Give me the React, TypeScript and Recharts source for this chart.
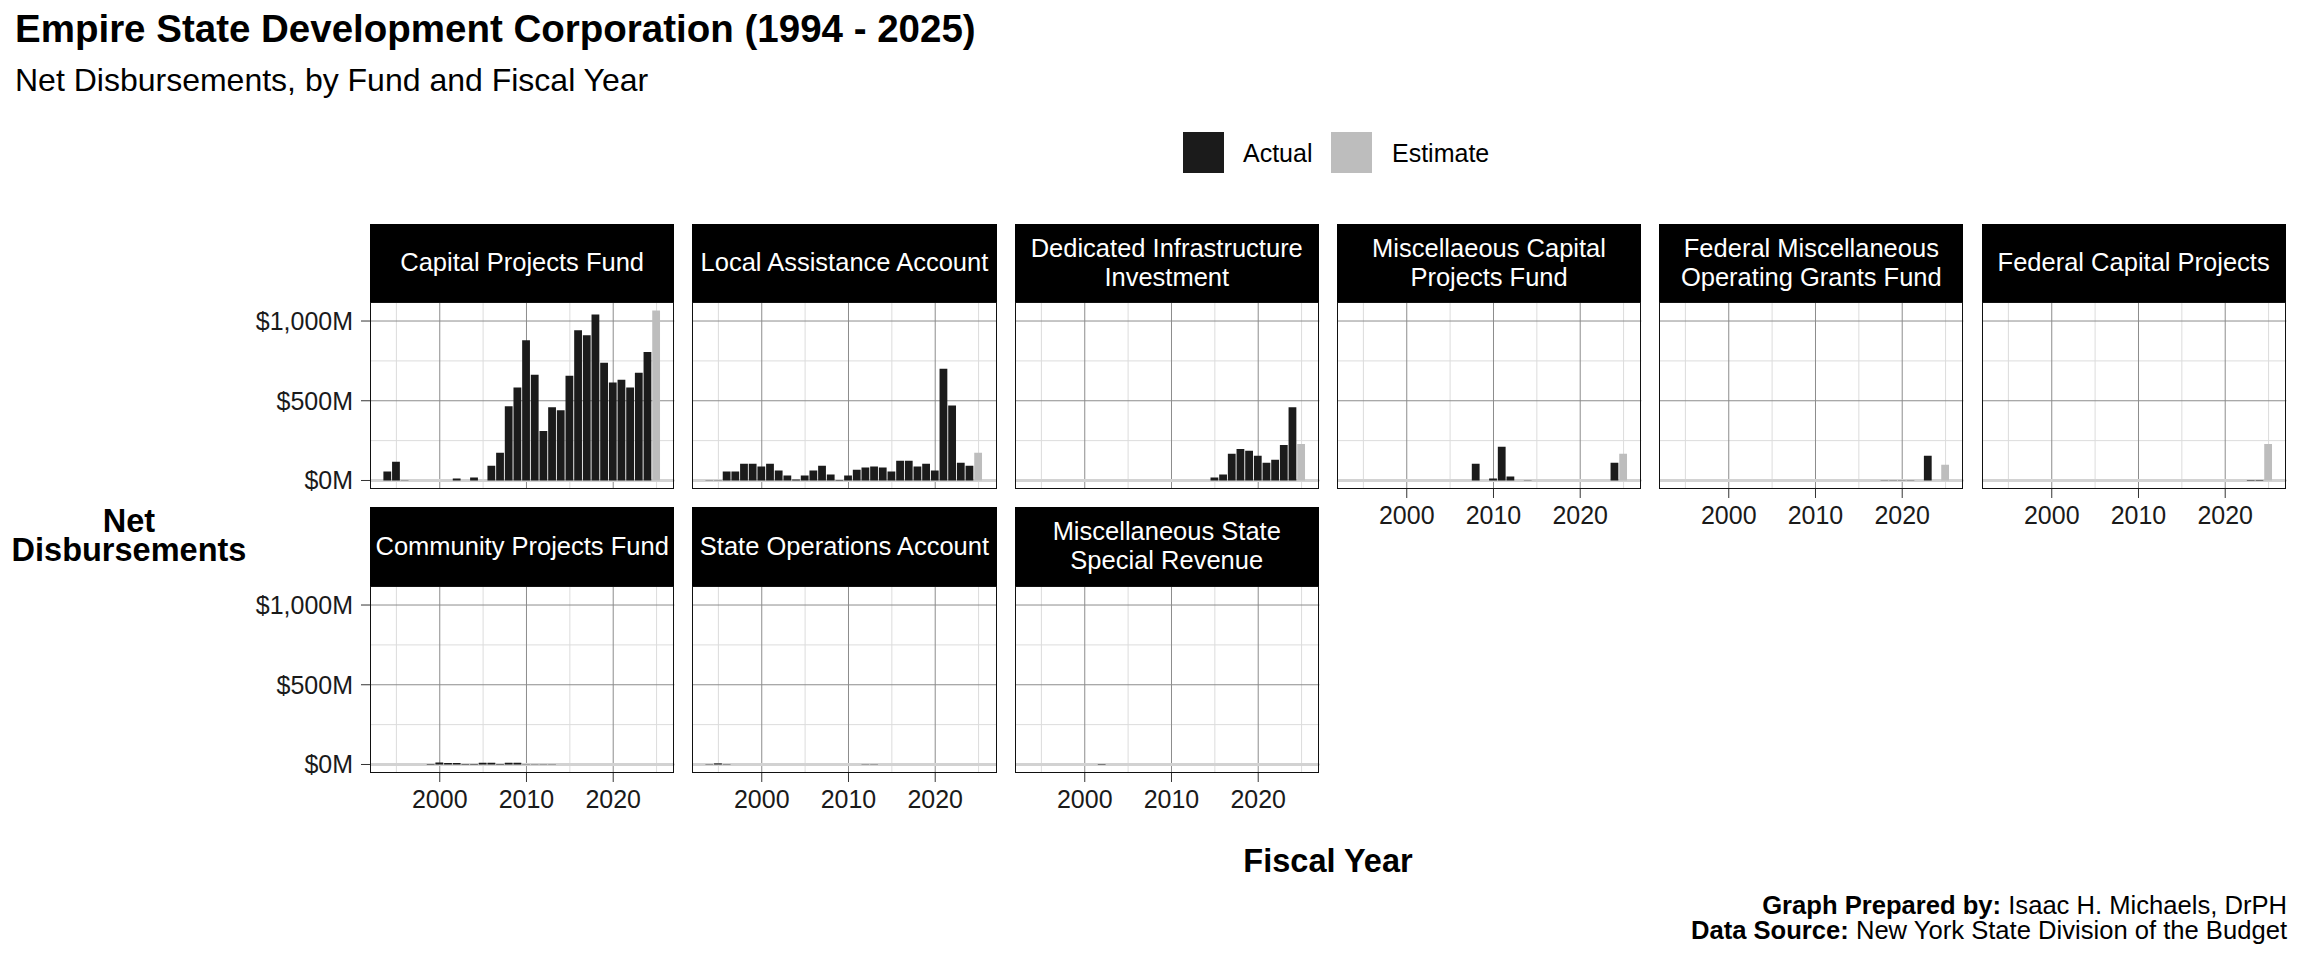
import React from "react";
import {
  BarChart,
  Bar,
  Cell,
  XAxis,
  YAxis,
  CartesianGrid,
} from "recharts";

const FONT = "'Liberation Sans', Arial, Helvetica, sans-serif";
const DARK = "#1b1b1b";
const LIGHT = "#bdbdbd";

// fiscal years shown on every facet
const years = [
  1994, 1995, 1996, 1997, 1998, 1999, 2000, 2001, 2002, 2003, 2004, 2005, 2006,
  2007, 2008, 2009, 2010, 2011, 2012, 2013, 2014, 2015, 2016, 2017, 2018, 2019,
  2020, 2021, 2022, 2023, 2024, 2025,
];
const estimateYears = [2025];

const majorX = [2000, 2010, 2020];
const minorX = [1995, 2005, 2015, 2025];
const majorY = [0, 500, 1000];
const minorY = [250, 750];

// net disbursements, $ millions, 1994 - 2025 (null = nothing disbursed)
const capitalProjectsFund = [
  56, 118, 2, null, null, null, null, null, 12, null, 19, null, 93, 174, 465,
  583, 880, 663, 310, 459, 440, 657, 942, 911, 1041, 738, 614, 632, 583, 676,
  806, 1066,
];
const localAssistanceAccount = [
  2, 2, 56, 56, 105, 105, 87, 105, 62, 31, 6, 31, 62, 93, 37, 3, 31, 68, 81, 87,
  81, 56, 124, 124, 87, 105, 62, 700, 471, 112, 93, 174,
];
const dedicatedInfrastructure = [
  null, null, null, null, null, null, null, null, null, null, null, null, null,
  null, null, null, null, null, null, null, null, 19, 37, 167, 198, 186, 155,
  112, 130, 223, 459, 229,
];
const miscCapitalProjects = [
  null, null, null, null, null, null, null, null, null, null, null, null, null,
  null, 105, null, 12, 211, 25, null, 2, null, null, null, null, null, null,
  null, null, null, 112, 167,
];
const federalMiscOperating = [
  null, null, null, null, null, null, null, null, null, null, null, null, null,
  null, null, null, null, null, null, null, null, null, null, null, 1, 1, 1, 1,
  null, 155, null, 99,
];
const federalCapitalProjects = [
  null, null, null, null, null, null, null, null, null, null, null, null, null,
  null, null, null, null, null, null, null, null, null, null, null, null, null,
  null, null, null, 3, 3, 229,
];
const communityProjectsFund = [
  null, null, null, null, null, 3, 12, 9, 9, 3, 3, 11, 11, 3, 11, 11, 2, 2, 2,
  2, null, null, null, null, null, null, null, null, null, null, null, null,
];
const stateOperationsAccount = [
  2, 7, 2, null, null, null, null, null, null, null, null, null, null, null,
  null, null, null, null, 1, 1, null, null, null, null, null, null, null, null,
  null, null, null, null,
];
const miscStateSpecialRevenue = [
  null, null, null, null, null, null, null, null, 3, null, null, null, null,
  null, null, null, null, null, null, null, null, null, null, null, null, null,
  null, null, null, null, null, null,
];

const panels = [
  { label: ["Capital Projects Fund"], values: capitalProjectsFund },
  { label: ["Local Assistance Account"], values: localAssistanceAccount },
  { label: ["Dedicated Infrastructure", "Investment"], values: dedicatedInfrastructure },
  { label: ["Miscellaeous Capital", "Projects Fund"], values: miscCapitalProjects },
  { label: ["Federal Miscellaneous", "Operating Grants Fund"], values: federalMiscOperating },
  { label: ["Federal Capital Projects"], values: federalCapitalProjects },
  { label: ["Community Projects Fund"], values: communityProjectsFund },
  { label: ["State Operations Account"], values: stateOperationsAccount },
  { label: ["Miscellaneous State", "Special Revenue"], values: miscStateSpecialRevenue },
];

// shared scales, ggplot style 5% expansion
const allValues = panels.flatMap((p) => p.values.filter((v) => v != null) as number[]);
const yMax = Math.max(...allValues);
const yDomain = [-0.05 * yMax, 1.05 * yMax];
const xLo = years[0] - 0.45;
const xHi = years[years.length - 1] + 0.45;
const xDomain = [xLo - 0.05 * (xHi - xLo), xHi + 0.05 * (xHi - xLo)];

const PLOT_W = 304.3;
const PLOT_H = 187;
const STRIP_H = 78.8;

const fmtMoney = (v: number) => `$${v.toLocaleString("en-US")}M`;

const Panel = ({ label, values, index }: { label: string[]; values: (number | null)[]; index: number }) => {
  const row = index < 6 ? 0 : 1;
  const col = index < 6 ? index : index - 6;
  const showY = col === 0;
  const showX = row === 1 || col >= 3;
  const yW = showY ? 125 : 0;
  const xH = showX ? 45 : 0;
  const left = 370 + col * 322.3;
  const stripTop = 223.5 + row * 283.5;
  const plotTop = stripTop + STRIP_H;
  const data = years.map((year, i) => ({ year, value: values[i] }));

  return (
    <>
      <div
        style={{
          position: "absolute",
          left,
          top: stripTop,
          width: PLOT_W,
          height: STRIP_H,
          background: "#000",
          color: "#fff",
          display: "flex",
          flexDirection: "column",
          alignItems: "center",
          justifyContent: "center",
          fontSize: 25.5,
          lineHeight: "29px",
          textAlign: "center",
          whiteSpace: "nowrap",
        }}
      >
        {label.map((l) => (
          <div key={l}>{l}</div>
        ))}
      </div>
      <div style={{ position: "absolute", left: left - yW, top: plotTop }}>
        <BarChart
          width={PLOT_W + yW}
          height={PLOT_H + xH}
          data={data}
          margin={{ top: 0, right: 0, bottom: 0, left: 0 }}
        >
          <CartesianGrid horizontalValues={minorY} verticalValues={minorX} stroke="#dcdcdc" />
          <CartesianGrid horizontalValues={majorY} verticalValues={majorX} stroke="#8c8c8c" />
          <CartesianGrid horizontalValues={[0]} vertical={false} stroke="#d2d2d2" strokeWidth={3} />
          <XAxis
            type="number"
            dataKey="year"
            domain={xDomain}
            ticks={majorX}
            interval={0}
            allowDataOverflow
            hide={!showX}
            height={45}
            axisLine={false}
            tickSize={9}
            tickMargin={8}
            tickLine={{ stroke: "#333" }}
            tick={{ fontSize: 25, fill: "#1a1a1a", fontFamily: FONT }}
          />
          <YAxis
            type="number"
            domain={yDomain}
            ticks={majorY}
            interval={0}
            allowDataOverflow
            hide={!showY}
            width={125}
            axisLine={false}
            tickSize={9}
            tickMargin={8}
            tickLine={{ stroke: "#333" }}
            tickFormatter={fmtMoney}
            tick={{ fontSize: 25, fill: "#1a1a1a", fontFamily: FONT }}
          />
          <Bar dataKey="value" barSize={7.8} isAnimationActive={false}>
            {data.map((d) => (
              <Cell key={d.year} fill={estimateYears.includes(d.year) ? LIGHT : DARK} />
            ))}
          </Bar>
        </BarChart>
        <div
          style={{
            position: "absolute",
            left: yW,
            top: 0,
            width: PLOT_W,
            height: PLOT_H,
            border: "1.5px solid #111",
            boxSizing: "border-box",
            pointerEvents: "none",
          }}
        />
      </div>
    </>
  );
};

const yTitleStyle = {
  position: "absolute" as const,
  left: 0,
  width: 258,
  height: 26,
  fontSize: 32.5,
  lineHeight: "26px",
  fontWeight: "bold" as const,
  textAlign: "center" as const,
};

const App = () => {
  return (
    <div
      style={{
        position: "absolute",
        left: 0,
        top: 0,
        width: 2304,
        height: 960,
        background: "#fff",
        overflow: "hidden",
        fontFamily: FONT,
        color: "#000",
      }}
    >
      <style>{`.recharts-surface { overflow: visible; }`}</style>
      <div style={{ position: "absolute", left: 15, top: 10, fontSize: 38.5, lineHeight: 1, fontWeight: "bold" }}>
        Empire State Development Corporation (1994 - 2025)
      </div>
      <div style={{ position: "absolute", left: 15, top: 64, fontSize: 32, lineHeight: 1 }}>
        Net Disbursements, by Fund and Fiscal Year
      </div>

      {/* legend */}
      <div style={{ position: "absolute", left: 1183, top: 132, width: 41, height: 41, background: DARK }} />
      <div style={{ position: "absolute", left: 1243, top: 141, fontSize: 25, lineHeight: 1 }}>Actual</div>
      <div style={{ position: "absolute", left: 1331, top: 132, width: 41, height: 41, background: LIGHT }} />
      <div style={{ position: "absolute", left: 1392, top: 141, fontSize: 25, lineHeight: 1 }}>Estimate</div>

      {panels.map((p, i) => (
        <Panel key={p.label.join(" ")} label={p.label} values={p.values} index={i} />
      ))}

      <div style={{ ...yTitleStyle, top: 507.6 }}>Net</div>
      <div style={{ ...yTitleStyle, top: 537 }}>Disbursements</div>
      <div
        style={{
          position: "absolute",
          left: 1128,
          width: 400,
          top: 845,
          fontSize: 32.5,
          lineHeight: 1,
          fontWeight: "bold",
          textAlign: "center",
        }}
      >
        Fiscal Year
      </div>

      <div
        style={{
          position: "absolute",
          right: 17,
          top: 893,
          fontSize: 25.6,
          lineHeight: "25px",
          textAlign: "right",
        }}
      >
        <div>
          <b>Graph Prepared by:</b> Isaac H. Michaels, DrPH
        </div>
        <div>
          <b>Data Source:</b> New York State Division of the Budget
        </div>
      </div>
    </div>
  );
};

export default App;
